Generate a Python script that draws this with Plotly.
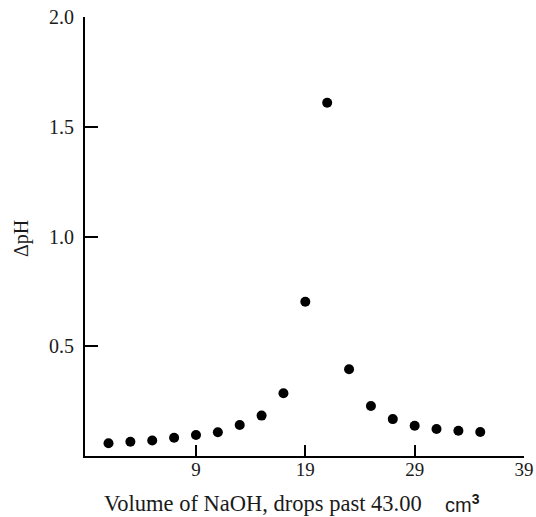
import plotly.graph_objects as go

# Data
drops = [1, 3, 5, 7, 9, 11, 13, 15, 17, 19, 21, 23, 25, 27, 29, 31, 33, 35]
delta_ph = [0.058, 0.065, 0.071, 0.083, 0.096, 0.108, 0.141, 0.184, 0.286,
            0.703, 1.609, 0.395, 0.228, 0.168, 0.138, 0.123, 0.115, 0.109]
x_ticks = [9, 19, 29, 39]
y_ticks = [0.5, 1.0, 1.5, 2.0]
y_tick_text = ["0.5", "1.0", "1.5", "2.0"]

SERIF = "Liberation Serif, Times New Roman, serif"
SANS = "Liberation Sans, Arial, sans-serif"

fig = go.Figure()
fig.add_trace(go.Scatter(
    x=drops, y=delta_ph, mode="markers",
    marker=dict(size=10, color="black", line=dict(width=0)),
    hoverinfo="skip", showlegend=False,
))

fig.update_layout(
    width=536, height=517,
    margin=dict(l=85, r=12, t=16.5, b=61, pad=0),
    paper_bgcolor="white", plot_bgcolor="white",
    font=dict(family=SERIF, color="black"),
    xaxis=dict(
        range=[-1.15, 39], tickvals=x_ticks, ticktext=[str(v) for v in x_ticks],
        ticks="inside", ticklen=11, tickwidth=2, tickcolor="black",
        showline=True, linewidth=2, linecolor="black",
        showgrid=False, zeroline=False, automargin=False,
        tickfont=dict(family=SERIF, size=19, color="#1a1a1a"),
        ticklabelstandoff=-5,
    ),
    yaxis=dict(
        range=[0, 2.0], tickvals=y_ticks, ticktext=y_tick_text,
        ticks="inside", ticklen=13, tickwidth=2, tickcolor="black",
        showline=True, linewidth=2, linecolor="black",
        showgrid=False, zeroline=False, automargin=False,
        tickfont=dict(family=SERIF, size=20, color="#1a1a1a"),
        ticklabelstandoff=5,
    ),
    annotations=[
        dict(text="Volume of NaOH, drops past 43.00", xref="paper", yref="paper",
             x=0.405, y=-0.142, xanchor="center", yanchor="bottom", showarrow=False,
             font=dict(family=SERIF, size=22.5, color="#1a1a1a")),
        dict(text="cm<sup><b>3</b></sup>", xref="paper", yref="paper",
             x=0.8155, y=-0.142, xanchor="left", yanchor="bottom", showarrow=False,
             font=dict(family=SANS, size=20, color="#1a1a1a")),
        dict(text="ΔpH", xref="paper", yref="paper",
             x=-0.145, y=0.495, xanchor="center", yanchor="middle", showarrow=False,
             textangle=-90, font=dict(family=SERIF, size=20, color="#1a1a1a")),
    ],
)

fig.write_html(
    "out.html",
    config={"displayModeBar": False},
    post_script="document.body.style.margin='0';document.body.style.overflow='hidden';",
)
